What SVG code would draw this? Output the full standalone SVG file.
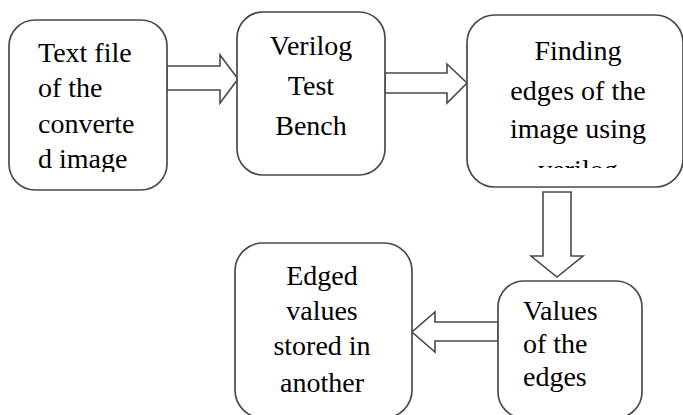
<svg xmlns="http://www.w3.org/2000/svg" width="683" height="415" viewBox="0 0 683 415">
<defs>
<style>
.box{fill:#fff;stroke:#4a4a4a;stroke-width:1.7}
.arr{fill:#fff;stroke:#4a4a4a;stroke-width:1.6;stroke-linejoin:miter}
.t{font-family:"Liberation Serif","Times New Roman",serif;font-size:28px;fill:#000}
.c{text-anchor:middle}
</style>
<clipPath id="clip1"><rect x="0" y="0" width="200" height="172"/></clipPath>
<clipPath id="clip3"><rect x="460" y="0" width="223" height="168"/></clipPath>
</defs>
<rect width="683" height="415" fill="#fff"/>
<g id="connectors">
<polygon class="arr" points="167,66 220,66 220,55 238,79 220,103 220,90 167,90"/>
<polygon class="arr" points="385,73 447,73 447,64 467,83 447,103 447,93 385,93"/>
<polygon class="arr" points="543,192 571,192 571,256 583,256 557,277 531,256 543,256"/>
<polygon class="arr" points="498,322 435,322 435,312 412,332 435,352 435,341 498,341"/>
</g>
<g id="node1">
<rect class="box" x="9" y="20" width="158" height="170" rx="26"/>
<g clip-path="url(#clip1)">
<text class="t" x="38" y="62">Text file</text>
<text class="t" x="38" y="97">of the</text>
<text class="t" x="38" y="133">converte</text>
<text class="t" x="38" y="168">d image</text>
</g>
</g>
<g id="node2">
<rect class="box" x="237" y="12" width="148" height="163" rx="26"/>
<text class="t c" x="311" y="55">Verilog</text>
<text class="t c" x="311" y="95">Test</text>
<text class="t c" x="311" y="135">Bench</text>
</g>
<g id="node3">
<rect class="box" x="467" y="15" width="216" height="172" rx="28"/>
<g clip-path="url(#clip3)">
<text class="t c" x="578" y="60">Finding</text>
<text class="t c" x="578" y="100">edges of the</text>
<text class="t c" x="578" y="138">image using</text>
<text class="t c" x="578" y="179">verilog</text>
</g>
</g>
<g id="node4">
<rect class="box" x="235" y="243" width="177" height="175" rx="28"/>
<text class="t c" x="322" y="285">Edged</text>
<text class="t c" x="322" y="320">values</text>
<text class="t c" x="322" y="355">stored in</text>
<text class="t c" x="322" y="392">another</text>
</g>
<g id="node5">
<rect class="box" x="498" y="281" width="144" height="137" rx="26"/>
<text class="t" x="523" y="320">Values</text>
<text class="t" x="523" y="353">of the</text>
<text class="t" x="523" y="386">edges</text>
</g>
</svg>
